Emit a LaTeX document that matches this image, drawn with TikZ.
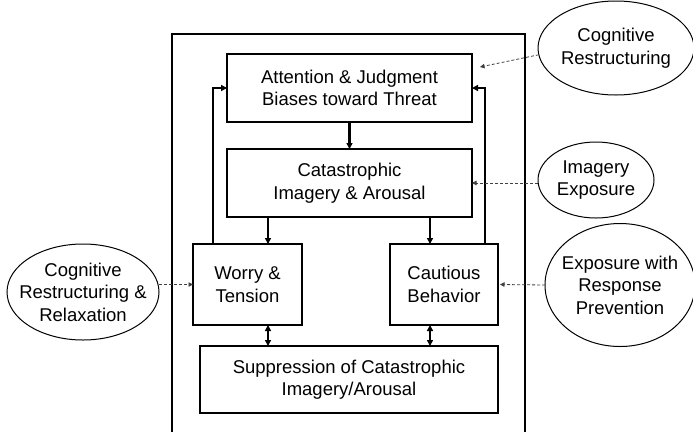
\documentclass[tikz,border=0pt]{standalone}
\usepackage{fontspec}
\setmainfont{Liberation Sans}
\usetikzlibrary{positioning, arrows.meta, shapes.geometric}
\tikzset{
>={Triangle[length=6pt,width=6pt]}, % small filled arrow heads
x=1pt, y=-1pt, % coordinates measured from the top left corner
node distance=27pt, % gap between the two top boxes
every node/.style={font=\fontsize{18.5}{22.5}\selectfont, align=center, inner sep=0pt, outer sep=0pt},
stage/.style={draw, line width=1.2pt}, % the boxes of the model
therapy/.style={draw, ellipse, line width=1pt}, % the treatments outside
link/.style={->, line width=2.2pt}, % solid connectors
twoway/.style={<->, line width=2.2pt},
effect/.style={->, dashed, dash pattern=on 3pt off 2pt, line width=0.8pt, gray!50!black, >={Triangle[length=4.5pt,width=4.5pt]}},
}

\begin{document}
\begin{tikzpicture}
    \useasboundingbox (0,0) rectangle (693,432);

    % frame round the model, open at the bottom
    \draw[line width=1.2pt] (172,432) -- (172,34) -- (525,34) -- (525,432);

    \node[stage, minimum width=245pt, minimum height=68pt] (att) at (349.5,88) {Attention \& Judgment\\Biases toward Threat};
    \node[stage, minimum width=245pt, minimum height=68pt, below=of att] (cat) {Catastrophic\\Imagery \& Arousal};
    \node[stage, minimum width=109pt, minimum height=81pt] (worry) at (247.5,284.5) {Worry \&\\Tension};
    \node[stage, minimum width=108pt, minimum height=81pt] (caut) at (444,284.5) {Cautious\\Behavior};
    \node[stage, minimum width=298pt, minimum height=67pt] (supp) at (349,379.5) {Suppression of Catastrophic\\Imagery/Arousal};

    \node[therapy, minimum width=156pt, minimum height=94pt, label={center:{Cognitive\\Restructuring}}] (cr) at (616,48) {};
    \node[therapy, minimum width=116pt, minimum height=76pt, label={center:{Imagery\\Exposure}}] (ie) at (596,180) {};
    \node[therapy, minimum width=150pt, minimum height=123pt, label={center:{Exposure with\\Response\\Prevention}}] (erp) at (620,285) {};
    \node[therapy, minimum width=152pt, minimum height=96pt, label={center:{Cognitive\\Restructuring \&\\Relaxation}}] (crr) at (83,292) {};

    \coordinate (lx) at (268,0);
    \coordinate (rx) at (430,0);
    \coordinate (fl) at (213,0);
    \coordinate (fr) at (485,0);
    \coordinate (crend) at (480,67);

    \draw[link] (att) -- (cat);
    \draw[link] (cat.south -| lx) -- (worry.north -| lx);
    \draw[link] (cat.south -| rx) -- (caut.north -| rx);
    \draw[link] (worry.north -| fl) |- (att.west);
    \draw[link] (caut.north -| fr) |- (att.east);
    \draw[twoway] (worry.south -| lx) -- (supp.north -| lx);
    \draw[twoway] (caut.south -| rx) -- (supp.north -| rx);

    \draw[effect] (cr.185) -- (crend);
    \draw[effect] (ie.west |- cat.east) -- (cat.east);
    \draw[effect] (erp.west) -- ([xshift=2pt]caut.east);
    \draw[effect] (crr.east |- worry.west) -- (worry.west);
\end{tikzpicture}
\end{document}
